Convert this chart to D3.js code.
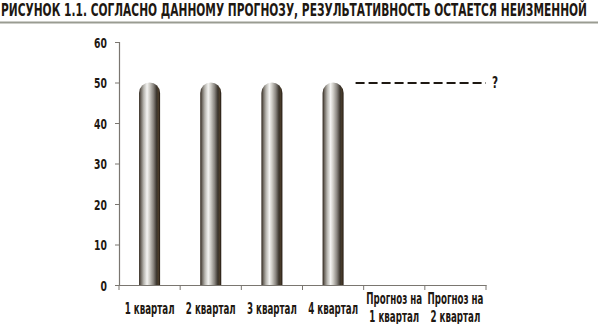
<!DOCTYPE html>
<html>
<head>
<meta charset="utf-8">
<script src="https://cdn.jsdelivr.net/npm/d3@7"></script>
<style>
  body { margin: 0; background: #fff; }
  text { font-family: "DejaVu Sans", "Roboto", sans-serif; font-weight: bold; fill: #1e1812; }
</style>
</head>
<body>
<div id="chart"></div>
<script>
// данные графика
var categories = ["1 квартал", "2 квартал", "3 квартал", "4 квартал", "Прогноз на|1 квартал", "Прогноз на|2 квартал"];
var values = [50, 50, 50, 50, null, null];
var forecastLevel = 50;
var yTicks = [0, 10, 20, 30, 40, 50, 60];
var title = "РИСУНОК 1.1. СОГЛАСНО ДАННОМУ ПРОГНОЗУ, РЕЗУЛЬТАТИВНОСТЬ ОСТАЕТСЯ НЕИЗМЕННОЙ";

var width = 598, height = 324;
var margin = { top: 42, right: 112, bottom: 39, left: 119 };

var svg = d3.select("#chart").append("svg")
  .attr("width", width)
  .attr("height", height);

// узкий шрифт имитируем через textLength
function narrow(sel, factor) {
  sel.each(function() {
    var w = this.getComputedTextLength();
    d3.select(this).attr("textLength", w * factor).attr("lengthAdjust", "spacingAndGlyphs");
  });
}

// заголовок и линия под ним
svg.append("text")
  .attr("x", 1)
  .attr("y", 16)
  .attr("font-size", 17)
  .attr("textLength", 586)
  .attr("lengthAdjust", "spacingAndGlyphs")
  .text(title);
svg.append("line")
  .attr("x1", 0).attr("x2", width)
  .attr("y1", 22.5).attr("y2", 22.5)
  .attr("stroke", "#9a9c92")
  .attr("stroke-width", 2);

var defs = svg.append("defs");
var grad = defs.append("linearGradient")
  .attr("id", "cyl")
  .attr("x1", "0%").attr("x2", "100%")
  .attr("y1", "0%").attr("y2", "0%");
[
  [0, "#2a2016"], [0.08, "#6a645c"], [0.22, "#b8b6b0"], [0.38, "#f4f4f2"],
  [0.5, "#d0cec8"], [0.68, "#8a8680"], [0.84, "#3a342c"], [0.92, "#4a3c2a"], [1, "#1e1610"]
].forEach(function(s) {
  grad.append("stop").attr("offset", s[0]).attr("stop-color", s[1]);
});

var x = d3.scaleBand()
  .domain(categories)
  .range([margin.left, width - margin.right]);

var y = d3.scaleLinear()
  .domain([0, 60])
  .range([height - margin.bottom, margin.top]);

var g = svg.append("g");

// ось Y
var yAxis = d3.axisLeft(y).tickValues(yTicks).tickSize(4).tickPadding(8);
var ya = g.append("g")
  .attr("transform", "translate(" + margin.left + ",0)")
  .call(yAxis);
ya.select(".domain").attr("stroke", "#7a7670").attr("stroke-width", 1.2);
ya.selectAll(".tick line").attr("stroke", "#7a7670");
ya.selectAll(".tick text")
  .attr("font-size", 14.5)
  .attr("font-family", null)
  .attr("fill", "#1e1812")
  .attr("dy", "0.36em");
narrow(ya.selectAll(".tick text"), 0.64);

// ось X
var xAxis = d3.axisBottom(x).tickSize(0).tickFormat("");
var xa = g.append("g")
  .attr("transform", "translate(0," + y(0) + ")")
  .call(xAxis);
xa.select(".domain").attr("stroke", "#7a7670").attr("stroke-width", 1.2);
xa.selectAll(".tick").remove();

// засечки между категориями
var bounds = categories.map(function(c) { return x(c); }).concat([x.range()[1]]);
g.selectAll(".xtick")
  .data(bounds)
  .enter()
  .append("line")
  .attr("class", "xtick")
  .attr("x1", function(d) { return d; })
  .attr("x2", function(d) { return d; })
  .attr("y1", y(0))
  .attr("y2", y(0) + 5)
  .attr("stroke", "#7a7670");

// подписи категорий (по строкам)
var lines = [];
categories.forEach(function(c) {
  var parts = c.split("|");
  parts.forEach(function(p, i) {
    lines.push({ cat: c, text: p, y: parts.length > 1 ? 304 + i * 17.7 : 314 });
  });
});
var labels = g.selectAll(".xlabel")
  .data(lines)
  .enter()
  .append("text")
  .attr("class", "xlabel")
  .attr("text-anchor", "middle")
  .attr("font-size", 15)
  .attr("x", function(d) { return x(d.cat) + x.bandwidth() / 2; })
  .attr("y", function(d) { return d.y; })
  .text(function(d) { return d.text; });
narrow(labels, 0.58);

// столбики-цилиндры
var barW = 21;
g.selectAll(".bar")
  .data(categories.map(function(c, i) { return { name: c, value: values[i] }; })
    .filter(function(d) { return d.value != null; }))
  .enter()
  .append("path")
  .attr("class", "bar")
  .attr("fill", "url(#cyl)")
  .attr("d", function(d) {
    var cx = x(d.name) + x.bandwidth() / 2;
    var x0 = cx - barW / 2, x1 = cx + barW / 2;
    var r = barW / 2;
    var top = y(d.value), bot = y(0);
    return "M" + x0 + "," + bot +
      "L" + x0 + "," + (top + r) +
      "A" + r + "," + r + " 0 0 1 " + x1 + "," + (top + r) +
      "L" + x1 + "," + bot + "Z";
  });

// пунктир прогноза
var lastCx = x(categories[3]) + x.bandwidth() / 2;
g.append("line")
  .attr("x1", lastCx + barW / 2 + 12)
  .attr("x2", x.range()[1])
  .attr("y1", y(forecastLevel) + 0.5)
  .attr("y2", y(forecastLevel) + 0.5)
  .attr("stroke", "#1e1812")
  .attr("stroke-width", 2)
  .attr("stroke-dasharray", "9,4");
var q = g.append("text")
  .attr("x", x.range()[1] + 6)
  .attr("y", y(forecastLevel) + 5)
  .attr("font-size", 15)
  .text("?");
narrow(q, 0.7);
</script>
</body>
</html>
